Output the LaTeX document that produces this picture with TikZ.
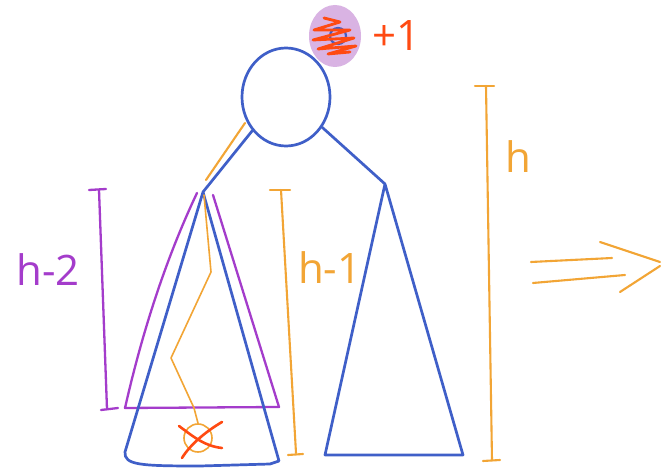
\documentclass[tikz,border=0pt]{standalone}
\usepackage{fontspec}
\setmainfont{Open Sans}
\usetikzlibrary{calc,shapes.geometric}
\definecolor{tblue}{HTML}{3F5FC8}
\definecolor{tpurple}{HTML}{A43CCB}
\definecolor{torange}{HTML}{F2A535}
\definecolor{tred}{HTML}{FF4A12}
\definecolor{tlilac}{HTML}{D9B3E3}
\tikzset{
  bl/.style={draw=tblue, line width=2.7pt, line cap=round, line join=round},
  pu/.style={draw=tpurple, line width=2.3pt, line cap=round, line join=round},
  orl/.style={draw=torange, line width=2.1pt, line cap=round, line join=round},
  lbl/.style={font=\fontsize{42}{42}\selectfont, inner sep=0pt},
}
\begin{document}
\begin{tikzpicture}[x=1pt,y=-1pt]
\useasboundingbox (0,0) rectangle (662,470);
\fill[white] (0,0) rectangle (662,470);
% root
\node[bl, ellipse, minimum width=88pt, minimum height=98pt, inner sep=0pt] (root) at (286,97) {};
\coordinate (la) at (203,192);
\coordinate (ra) at (385,184);
% edges
\draw[orl] (245,123) -- (206,180);
\draw[bl] (root.-135) -- (la);
\draw[bl] (root.-40) -- (ra);
% highlighted new node
\node[fill=tlilac, ellipse, minimum width=52pt, minimum height=62pt, inner sep=0pt] (new) at (335,36) {};
\draw[tblue, line width=2.2pt] (338,36) circle (8);
\draw[tred, line width=2.8pt, line cap=round, line join=round]
  (324,18) -- (340,22) -- (314,30) -- (350,30) -- (313,40) -- (354,38) -- (318,49) -- (356,46) -- (328,54) -- (350,52);
\node[lbl, text=tred, anchor=west] (plus) at (372,36) {+1};
% left subtree: purple (h-2)
\coordinate (pl) at (125,408);
\coordinate (pr) at (279,407);
\draw[pu] (197,193) .. controls (170,250) and (145,320) .. (pl) -- (pr) -- (213,195);
% left subtree: blue
\coordinate (lbl1) at (125,452);
\coordinate (lbr) at (279,461);
\draw[bl] (lbr) -- (la) -- (lbl1) .. controls (124,465) and (140,466) .. (200,466) -- (270,464) -- (lbr);
% orange path to deepest leaf
\coordinate (o1) at (204,195);
\coordinate (o2) at (211,272);
\coordinate (o3) at (171,358);
\coordinate (o4) at (194,408);
\node[draw=torange, line width=1.6pt, circle, minimum size=28pt, inner sep=0pt] (leaf) at (198,438) {};
\draw[orl, line width=1.6pt] (o1) -- (o2) -- (o3) -- (o4) -- (leaf.north);
\draw[tred, line width=2.6pt, line cap=round] (179,426) .. controls (195,438) and (205,446) .. (222,448);
\draw[tred, line width=2.6pt, line cap=round] (222,422) .. controls (205,432) and (190,445) .. (182,458);
% right subtree
\coordinate (rbl) at (325,455);
\coordinate (rbr) at (463,455);
\draw[bl] (ra) -- (rbl) -- (rbr) -- cycle;
% bracket h-2
\coordinate (b2t) at (99,190);
\coordinate (b2b) at (107,409);
\draw[pu] (89,190) -- (106,189);
\draw[pu] (b2t) -- (b2b);
\draw[pu] (101,410) -- (118,408);
\node[lbl, text=tpurple] (lh2) at (48,270) {h-2};
% bracket h-1
\draw[orl] (270,190) -- (290,190);
\draw[orl] (281,190) -- (296,453);
\draw[orl] (288,455) -- (303,454);
\node[lbl, text=torange, anchor=west] (lh1) at (298,268) {h-1};
% bracket h
\draw[orl] (475,86) -- (494,86);
\draw[orl] (486,86) -- (492,460);
\draw[orl] (483,461) -- (500,460);
\node[lbl, text=torange] (lh) at (518,157) {h};
% implication arrow
\draw[orl] (531,262) -- (612,258);
\draw[orl] (533,283) -- (625,275);
\draw[orl] (600,242) -- (660,262);
\draw[orl] (620,292) -- (660,266);
\end{tikzpicture}
\end{document}
